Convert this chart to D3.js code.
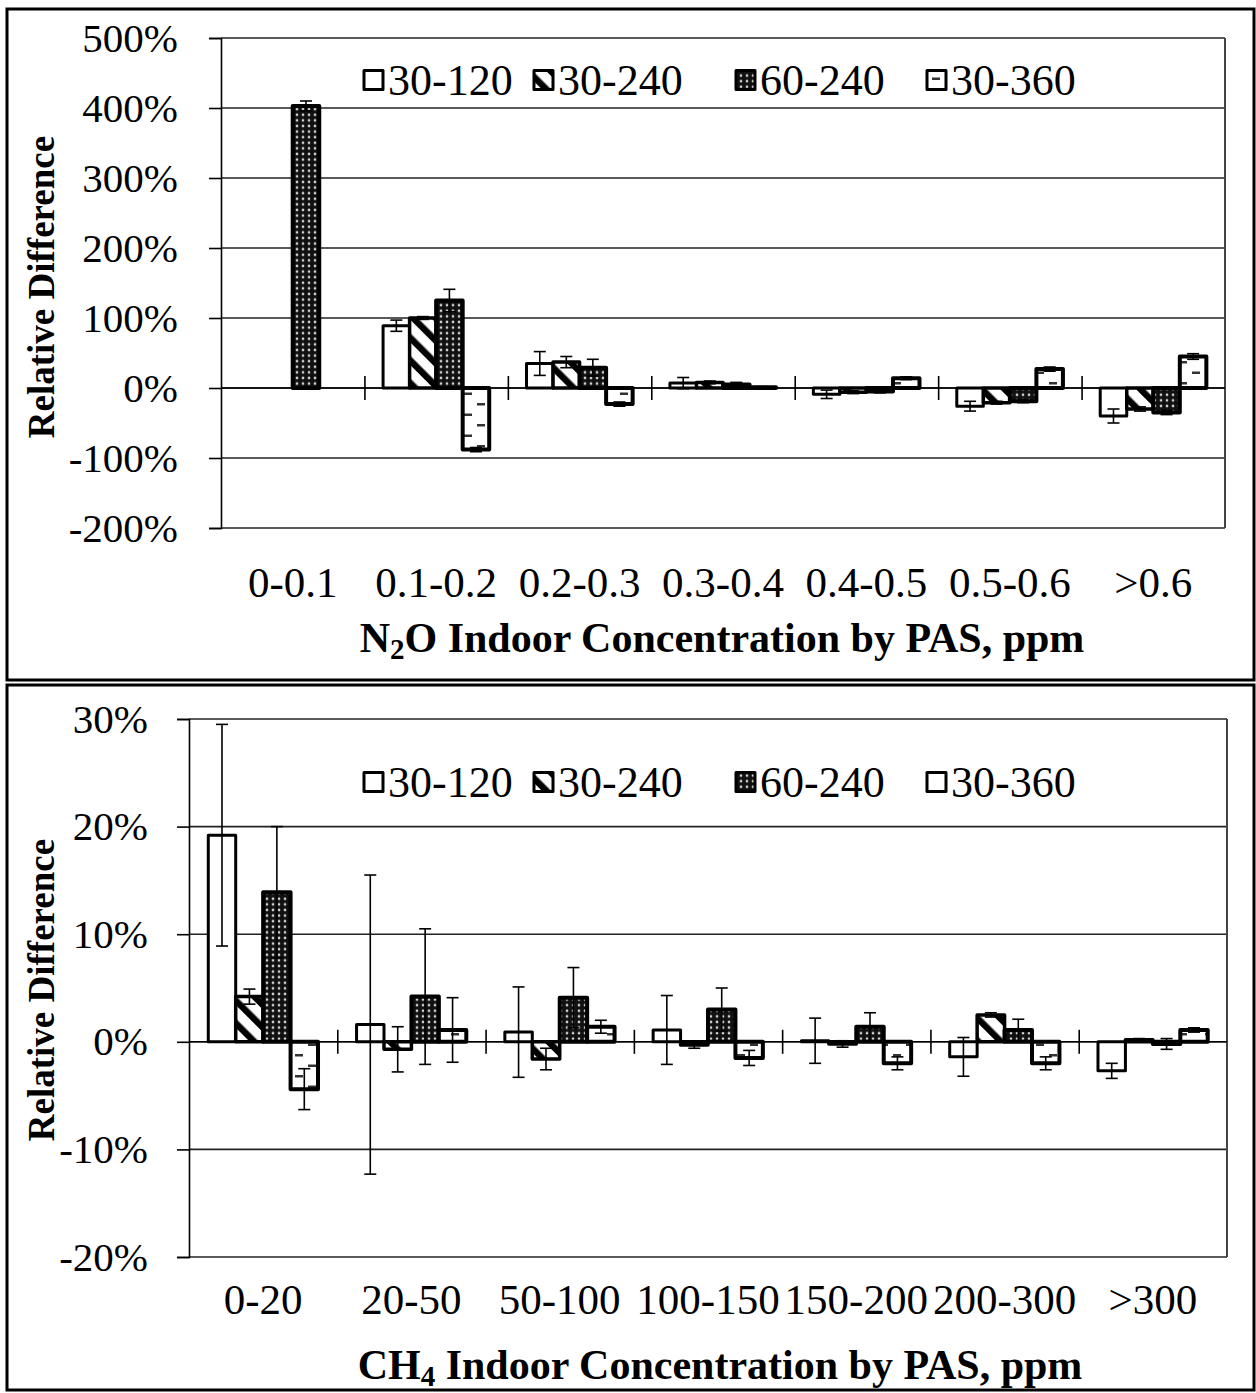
<!DOCTYPE html>
<html>
<head>
<meta charset="utf-8">
<script src="https://cdn.jsdelivr.net/npm/d3@7"></script>
<style>
  html, body { margin: 0; padding: 0; background: #fff; }
  svg { display: block; }
  text { font-family: "Liberation Serif", "Times New Roman", serif; fill: #000; }
</style>
</head>
<body>
<script>
// Series (averaging-window pairs) shared by both panels
const seriesNames = ["30-120", "30-240", "60-240", "30-360"];

// N2O panel: relative difference (%) by indoor concentration bin
const n2oCategories = ["0-0.1", "0.1-0.2", "0.2-0.3", "0.3-0.4", "0.4-0.5", "0.5-0.6", ">0.6"];
const n2o_30_120 = [null, 89, 35, 7, -9, -26, -40];
const n2o_30_240 = [null, 100, 37, 8, -6, -21, -30];
const n2o_60_240 = [403, 125, 29, 5, -5, -19, -35];
const n2o_30_360 = [null, -88, -23, 1, 14, 27, 45];
const n2oErr_30_120 = [0, 8, 17, 8, 6, 7, 10];
const n2oErr_30_240 = [0, 2, 8, 2, 2, 2, 3];
const n2oErr_60_240 = [7, 16, 12, 3, 2, 2, 3];
const n2oErr_30_360 = [0, 3, 3, 1, 2, 3, 4];
const n2oTicks = [-200, -100, 0, 100, 200, 300, 400, 500];

// CH4 panel: relative difference (%) by indoor concentration bin
const ch4Categories = ["0-20", "20-50", "50-100", "100-150", "150-200", "200-300", ">300"];
const ch4_30_120 = [19.2, 1.6, 0.9, 1.1, 0.1, -1.4, -2.7];
const ch4_30_240 = [4.2, -0.7, -1.6, -0.3, -0.2, 2.5, 0.2];
const ch4_60_240 = [13.9, 4.2, 4.1, 3.0, 1.4, 1.1, -0.2];
const ch4_30_360 = [-4.4, 1.1, 1.4, -1.5, -2.0, -2.0, 1.1];
const ch4Err_30_120 = [10.3, 13.9, 4.2, 3.2, 2.1, 1.8, 0.7];
const ch4Err_30_240 = [0.7, 2.1, 1.0, 0.3, 0.3, 0.2, 0.1];
const ch4Err_60_240 = [6.1, 6.3, 2.8, 2.0, 1.3, 1.0, 0.5];
const ch4Err_30_360 = [1.9, 3.0, 0.6, 0.7, 0.6, 0.6, 0.2];
const ch4Ticks = [-20, -10, 0, 10, 20, 30];

const W = 1256, H = 1393;
const svg = d3.select("body").append("svg").attr("width", W).attr("height", H);
const defs = svg.append("defs");

// Fill patterns for the four series
// 30-240: wide downward diagonal stripes
const pDiag = defs.append("pattern").attr("id", "pat-diag")
  .attr("patternUnits", "userSpaceOnUse").attr("width", 16).attr("height", 16)
  .attr("patternTransform", "rotate(-45)");
pDiag.append("rect").attr("width", 16).attr("height", 16).attr("fill", "#fff");
pDiag.append("rect").attr("width", 6.5).attr("height", 16).attr("fill", "#000");

// 60-240: dark fill with light dots
const pDots = defs.append("pattern").attr("id", "pat-dots")
  .attr("patternUnits", "userSpaceOnUse").attr("width", 6).attr("height", 5.6);
pDots.append("rect").attr("width", 6).attr("height", 5.6).attr("fill", "#111");
pDots.append("circle").attr("cx", 3).attr("cy", 2.8).attr("r", 1.35).attr("fill", "#d0d0d0");

// 30-360: white with staggered short horizontal dashes
const pDash = defs.append("pattern").attr("id", "pat-dash")
  .attr("patternUnits", "userSpaceOnUse").attr("width", 26).attr("height", 21);
pDash.append("rect").attr("width", 26).attr("height", 21).attr("fill", "#fff");
pDash.append("rect").attr("x", 9).attr("y", 4).attr("width", 8).attr("height", 2.5).attr("fill", "#333");
pDash.append("rect").attr("x", 22).attr("y", 14.5).attr("width", 4).attr("height", 2.5).attr("fill", "#333");
pDash.append("rect").attr("x", 0).attr("y", 14.5).attr("width", 4).attr("height", 2.5).attr("fill", "#333");

const seriesFill = ["#fff", "url(#pat-diag)", "url(#pat-dots)", "url(#pat-dash)"];
const seriesStroke = [3, 3.5, 4, 4];

function drawPanel(cfg) {
  const g = svg.append("g");

  // panel frame
  g.append("rect")
    .attr("x", cfg.frame[0]).attr("y", cfg.frame[1])
    .attr("width", cfg.frame[2] - cfg.frame[0]).attr("height", cfg.frame[3] - cfg.frame[1])
    .attr("fill", "none").attr("stroke", "#000").attr("stroke-width", 3);

  const x0 = d3.scaleBand().domain(cfg.categories).range([cfg.left, cfg.right]).padding(0);
  const bw = x0.bandwidth();
  const x1 = d3.scaleBand().domain(seriesNames).range([bw * 0.13, bw * 0.87]).padding(0);
  const y = d3.scaleLinear().domain(cfg.yDomain).range([cfg.bottom, cfg.top]);
  const xIdx = d3.scaleLinear().domain([0, cfg.categories.length]).range([cfg.left, cfg.right]);

  // horizontal gridlines
  g.append("g").selectAll("line").data(cfg.ticks).join("line")
    .attr("x1", cfg.left).attr("x2", cfg.right)
    .attr("y1", d => y(d)).attr("y2", d => y(d))
    .attr("stroke", "#222").attr("stroke-width", 1.6);

  // plot-area right edge
  g.append("line").attr("x1", cfg.right).attr("x2", cfg.right)
    .attr("y1", y(cfg.yDomain[1])).attr("y2", y(cfg.yDomain[0]))
    .attr("stroke", "#444").attr("stroke-width", 2);

  // y axis
  const yAxis = d3.axisLeft(y).tickValues(cfg.ticks).tickSize(12)
    .tickPadding(cfg.yLabelPad).tickFormat(d => d + "%");
  const ya = g.append("g").attr("transform", `translate(${cfg.left},0)`).call(yAxis);
  ya.select(".domain").attr("stroke", "#000").attr("stroke-width", 1.6);
  ya.selectAll(".tick line").attr("stroke", "#000").attr("stroke-width", 1.6);
  ya.selectAll(".tick text").attr("font-size", 41).attr("font-family", "Liberation Serif").attr("fill", "#000");

  // zero line with crossing category ticks
  const y0 = y(0);
  g.append("line").attr("x1", cfg.left).attr("x2", cfg.right)
    .attr("y1", y0).attr("y2", y0).attr("stroke", "#000").attr("stroke-width", 1.6);
  const tickAxis = d3.axisBottom(xIdx).tickValues(d3.range(1, cfg.categories.length))
    .tickSize(24).tickFormat("");
  const ta = g.append("g").attr("transform", `translate(0,${y0 - 12})`).call(tickAxis);
  ta.select(".domain").remove();
  ta.selectAll(".tick line").attr("stroke", "#000").attr("stroke-width", 1.6);

  // bars
  const series = cfg.values.map((vals, i) => ({
    name: seriesNames[i], i,
    pts: vals.map((v, j) => ({ cat: cfg.categories[j], v, e: cfg.errors[i][j] }))
  }));
  const barG = g.append("g");
  series.forEach(s => {
    barG.append("g").selectAll("rect").data(s.pts.filter(p => p.v !== null)).join("rect")
      .attr("x", p => x0(p.cat) + x1(s.name))
      .attr("width", x1.bandwidth())
      .attr("y", p => Math.min(y(p.v), y0))
      .attr("height", p => Math.abs(y(p.v) - y0))
      .attr("fill", seriesFill[s.i])
      .attr("stroke", "#000").attr("stroke-width", seriesStroke[s.i])
      .attr("stroke-linejoin", "round");
  });

  // error bars
  const errG = g.append("g").attr("stroke", "#000").attr("stroke-width", 1.6);
  series.forEach(s => {
    s.pts.filter(p => p.v !== null && p.e > 0).forEach(p => {
      const cx = x0(p.cat) + x1(s.name) + x1.bandwidth() / 2;
      const yt = y(p.v + p.e), yb = y(p.v - p.e);
      errG.append("line").attr("x1", cx).attr("x2", cx).attr("y1", yt).attr("y2", yb);
      errG.append("line").attr("x1", cx - 6).attr("x2", cx + 6).attr("y1", yt).attr("y2", yt);
      errG.append("line").attr("x1", cx - 6).attr("x2", cx + 6).attr("y1", yb).attr("y2", yb);
    });
  });

  // category labels
  g.append("g").selectAll("text").data(cfg.categories).join("text")
    .attr("x", d => x0(d) + bw / 2).attr("y", cfg.catLabelY)
    .attr("text-anchor", "middle").attr("font-size", 43).text(d => d);

  // legend
  const lg = g.append("g");
  seriesNames.forEach((name, i) => {
    const lx = cfg.legendX[i];
    lg.append("rect").attr("x", lx).attr("y", cfg.legendY - 9.5)
      .attr("width", 19).attr("height", 19)
      .attr("fill", seriesFill[i]).attr("stroke", "#000").attr("stroke-width", 3)
      .attr("stroke-linejoin", "round");
    lg.append("text").attr("x", lx + 24).attr("y", cfg.legendY + 15)
      .attr("font-size", 44).text(name);
  });

  // y-axis title
  g.append("text")
    .attr("transform", `translate(${cfg.yTitleX},${cfg.yTitleY}) rotate(-90)`)
    .attr("text-anchor", "middle").attr("font-size", 37).attr("font-weight", "bold")
    .text("Relative Difference");

  // x-axis title with subscript
  const xt = g.append("text").attr("x", cfg.xTitleX).attr("y", cfg.xTitleY)
    .attr("text-anchor", "middle").attr("font-size", 42).attr("font-weight", "bold");
  xt.append("tspan").text(cfg.xTitle[0]);
  xt.append("tspan").attr("font-size", 29).attr("dy", 7).text(cfg.xTitle[1]);
  xt.append("tspan").attr("dy", -7).text(cfg.xTitle[2]);
}

drawPanel({
  frame: [7, 9, 1254, 680],
  categories: n2oCategories,
  values: [n2o_30_120, n2o_30_240, n2o_60_240, n2o_30_360],
  errors: [n2oErr_30_120, n2oErr_30_240, n2oErr_60_240, n2oErr_30_360],
  ticks: n2oTicks, yDomain: [-200, 500],
  left: 221, right: 1225, top: 38, bottom: 528,
  yLabelPad: 31,
  catLabelY: 597,
  legendX: [364, 534, 736, 927], legendY: 80,
  yTitleX: 54, yTitleY: 287,
  xTitleX: 722, xTitleY: 652,
  xTitle: ["N", "2", "O Indoor Concentration by PAS, ppm"]
});

drawPanel({
  frame: [7, 685, 1254, 1390],
  categories: ch4Categories,
  values: [ch4_30_120, ch4_30_240, ch4_60_240, ch4_30_360],
  errors: [ch4Err_30_120, ch4Err_30_240, ch4Err_60_240, ch4Err_30_360],
  ticks: ch4Ticks, yDomain: [-20, 30],
  left: 189, right: 1227, top: 719, bottom: 1257,
  yLabelPad: 29,
  catLabelY: 1314,
  legendX: [364, 534, 736, 927], legendY: 782,
  yTitleX: 54, yTitleY: 990,
  xTitleX: 720, xTitleY: 1379,
  xTitle: ["CH", "4", " Indoor Concentration by PAS, ppm"]
});
</script>
</body>
</html>
